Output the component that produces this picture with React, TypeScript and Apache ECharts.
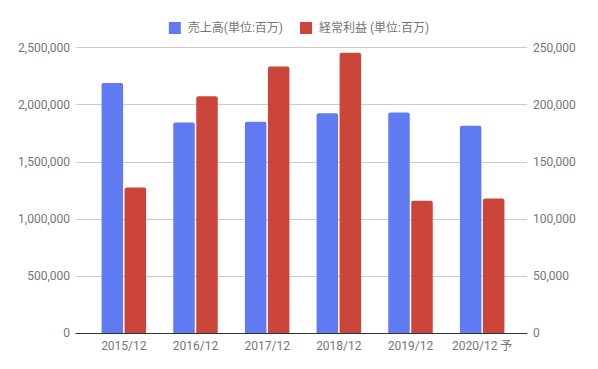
import React, { useEffect, useRef } from "react";
import * as echarts from "echarts";

const categories = ["2015/12", "2016/12", "2017/12", "2018/12", "2019/12", "2020/12 予"];
const salesValues = [2190000, 1845000, 1852000, 1925000, 1933000, 1817000];
const profitValues = [127500, 207500, 233500, 245500, 116000, 118000];
const seriesNames = ["売上高(単位:百万)", "経常利益 (単位:百万)"];
const leftMax = 2500000;
const leftInterval = 500000;
const rightMax = 250000;
const rightInterval = 50000;

const BLUE = "#607BF2";
const RED = "#CC453B";
const TEXT = "#757575";
const FONT = "Roboto, 'Noto Sans CJK JP', sans-serif";

export default function App() {
  const ref = useRef<HTMLDivElement>(null);
  useEffect(() => {
    if (!ref.current) return;
    const chart = echarts.init(ref.current, undefined, { renderer: "svg" });
    const fmt = (v: number) => v.toLocaleString("en-US");
    const top = 47.6;
    const bottom = 369 - 333.3;
    chart.setOption({
      animation: false,
      textStyle: { fontFamily: FONT },
      legend: {
        data: seriesNames,
        left: "center",
        top: 17,
        itemWidth: 12,
        itemHeight: 12,
        itemGap: 17,
        icon: "rect",
        textStyle: { color: TEXT, fontSize: 12, fontFamily: FONT, padding: [0, 0, 0, 2] },
      },
      grid: [
        { left: 76, right: 71, top, bottom },
        { left: 88, right: 80, top, bottom },
      ],
      xAxis: [
        {
          gridIndex: 0,
          type: "category",
          data: [""],
          axisLine: { show: true, lineStyle: { color: "#333333", width: 1 } },
          axisTick: { show: false },
          axisLabel: { show: false },
          z: 5,
        },
        {
          gridIndex: 1,
          type: "category",
          data: categories,
          axisLine: { show: false },
          axisTick: { show: false },
          axisLabel: { color: TEXT, fontSize: 12, fontFamily: FONT, margin: 7, interval: 0 },
        },
      ],
      yAxis: [
        {
          gridIndex: 0,
          type: "value",
          min: 0,
          max: leftMax,
          interval: leftInterval,
          position: "left",
          axisLine: { show: false },
          axisTick: { show: false },
          axisLabel: { color: TEXT, fontSize: 12, fontFamily: FONT, margin: 6, formatter: fmt },
          splitLine: { show: true, lineStyle: { color: "#cccccc", width: 1 } },
        },
        {
          gridIndex: 0,
          type: "value",
          min: 0,
          max: rightMax,
          interval: rightInterval,
          position: "right",
          axisLine: { show: false },
          axisTick: { show: false },
          axisLabel: { color: TEXT, fontSize: 12, fontFamily: FONT, margin: 6, formatter: fmt },
          splitLine: { show: false },
        },
        {
          gridIndex: 1,
          type: "value",
          min: 0,
          max: leftMax,
          show: false,
        },
        {
          gridIndex: 1,
          type: "value",
          min: 0,
          max: rightMax,
          show: false,
        },
      ],
      series: [
        {
          name: seriesNames[0],
          type: "bar",
          xAxisIndex: 1,
          yAxisIndex: 2,
          data: salesValues,
          barWidth: 21.5,
          barGap: "7%",
          itemStyle: { color: BLUE, borderRadius: [2, 2, 0, 0] },
        },
        {
          name: seriesNames[1],
          type: "bar",
          xAxisIndex: 1,
          yAxisIndex: 3,
          data: profitValues,
          barWidth: 21.5,
          barGap: "7%",
          itemStyle: { color: RED, borderRadius: [2, 2, 0, 0] },
        },
      ],
    });
    return () => chart.dispose();
  }, []);
  return (
    <div
      ref={ref}
      style={{ position: "absolute", left: 0, top: 0, width: 598, height: 369, background: "#fff" }}
    />
  );
}
